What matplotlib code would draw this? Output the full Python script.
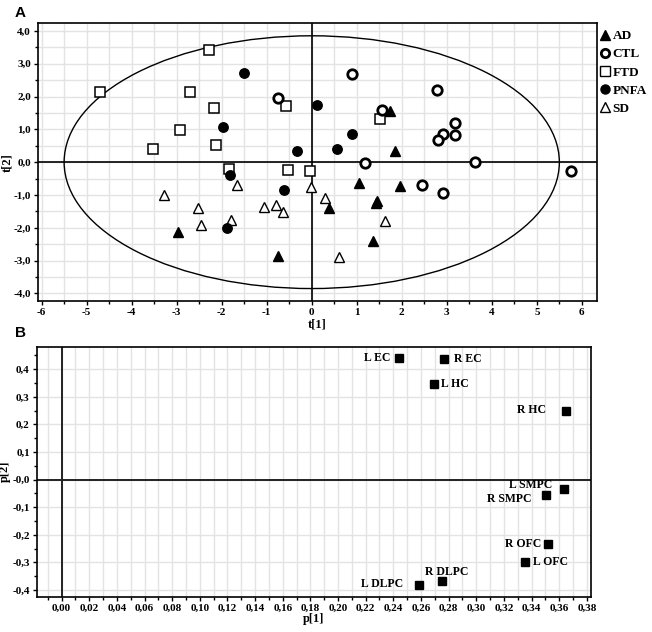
import numpy as np
import matplotlib.pyplot as plt
from matplotlib.patches import Ellipse
from matplotlib.ticker import MultipleLocator, FuncFormatter
from matplotlib.lines import Line2D

plt.rcParams['axes.unicode_minus'] = False
SERIF = 'Liberation Serif'

# ---- panel A: scores t[1] / t[2] ----
ad_x = [-2.96, -0.74, 0.39, 1.73, 1.84, 1.04, 1.96, 1.44, 1.42, 1.36]
ad_y = [-2.13, -2.85, -1.39, 1.57, 0.35, -0.62, -0.72, -1.18, -1.23, -2.39]

ctl_x = [-0.76, 0.90, 2.78, 1.57, 3.19, 2.91, 2.81, 3.19, 1.18, 3.62, 5.76, 2.44, 2.92]
ctl_y = [1.94, 2.69, 2.20, 1.59, 1.19, 0.87, 0.68, 0.83, -0.02, 0.00, -0.26, -0.70, -0.95]

ftd_x = [-2.28, -4.70, -2.70, -2.17, -2.92, -3.53, -2.13, -0.57, -1.83, -0.53, -0.04, 1.52]
ftd_y = [3.43, 2.14, 2.15, 1.66, 0.97, 0.40, 0.51, 1.71, -0.21, -0.25, -0.28, 1.33]

pnfa_x = [-1.50, 0.11, -1.96, -0.33, -1.82, -0.62, -1.89, 0.89, 0.57]
pnfa_y = [2.71, 1.73, 1.07, 0.35, -0.40, -0.86, -2.01, 0.85, 0.41]

sd_x = [-3.29, -2.52, -2.47, -1.67, -1.80, -1.07, -0.79, -0.63, -0.01, 0.30, 1.63, 0.60]
sd_y = [-1.00, -1.40, -1.91, -0.71, -1.76, -1.38, -1.29, -1.53, -0.75, -1.10, -1.78, -2.88]

ellipse_a, ellipse_b = 5.5, 3.85

# ---- panel B: loadings p[1] / p[2] ----
regions = ['L EC', 'R EC', 'L HC', 'R HC', 'L SMPC', 'R SMPC',
           'R OFC', 'L OFC', 'R DLPC', 'L DLPC']
p1 = [0.244, 0.277, 0.2695, 0.365, 0.3633, 0.3503, 0.3518, 0.3351, 0.275, 0.2584]
p2 = [0.441, 0.436, 0.348, 0.248, -0.033, -0.055, -0.233, -0.299, -0.368, -0.383]

# label offsets in pixels and alignment
lab_off = {'L EC': (-8, 0, 'right'), 'R EC': (10, 0, 'left'), 'L HC': (7, 0, 'left'),
           'R HC': (-20, 1, 'right'), 'L SMPC': (-11, 4, 'right'),
           'R SMPC': (-14, -4, 'right'), 'R OFC': (-7, 0, 'right'),
           'L OFC': (8, 0, 'left'), 'R DLPC': (5, 9, 'center'), 'L DLPC': (-16, 1, 'right')}

fig = plt.figure(figsize=(6.52, 6.32), dpi=100)
axA = fig.add_axes([0.0583, 0.5237, 0.8569, 0.4394])
axB = fig.add_axes([0.0563, 0.0559, 0.8501, 0.3956])

gridc = '#e3e3e3'


def style(ax):
    for s in ax.spines.values():
        s.set_linewidth(1.2)
    ax.tick_params(which='both', direction='out', length=3, width=1, pad=2)
    ax.tick_params(which='minor', length=2)
    for lab in ax.get_xticklabels() + ax.get_yticklabels():
        lab.set_fontproperties(SERIF)
        lab.set_fontweight('bold')
        lab.set_fontsize(8)
    ax.set_axisbelow(True)


# panel A
axA.set_xlim(-6.08, 6.33)
axA.set_ylim(-4.23, 4.23)
axA.xaxis.set_major_locator(MultipleLocator(1))
axA.xaxis.set_minor_locator(MultipleLocator(0.5))
axA.yaxis.set_major_locator(MultipleLocator(1))
axA.yaxis.set_minor_locator(MultipleLocator(0.5))
axA.xaxis.set_major_formatter(FuncFormatter(lambda v, p: '%d' % round(v)))
axA.yaxis.set_major_formatter(FuncFormatter(lambda v, p: ('%.1f' % v).replace('-0.0', '0.0').replace('.', ',')))
axA.grid(True, which='both', color=gridc, lw=1)
axA.axhline(0, color='black', lw=1.2, zorder=2)
axA.axvline(0, color='black', lw=1.2, zorder=2)
axA.add_patch(Ellipse((0, 0), 2 * ellipse_a, 2 * ellipse_b, fill=False, color='black', lw=1, zorder=2))

ms = 6.8
axA.plot(ftd_x, ftd_y, 's', ms=ms, mfc='white', mec='black', mew=1.1, ls='none', zorder=3)
axA.plot(sd_x, sd_y, '^', ms=ms, mfc='white', mec='black', mew=1.0, ls='none', zorder=3)
axA.plot(pnfa_x, pnfa_y, 'o', ms=ms, mfc='black', mec='black', ls='none', zorder=3)
axA.plot(ctl_x, ctl_y, 'o', ms=ms, mfc='white', mec='black', mew=2.0, ls='none', zorder=3)
axA.plot(ad_x, ad_y, '^', ms=ms, mfc='black', mec='black', ls='none', zorder=4)
axA.set_xlabel('t[1]', family=SERIF, weight='bold', fontsize=9, labelpad=1)
axA.set_ylabel('t[2]', family=SERIF, weight='bold', fontsize=9, labelpad=0)
style(axA)

handles = [
    Line2D([], [], marker='^', ms=7, mfc='black', mec='black', ls='none'),
    Line2D([], [], marker='o', ms=6, mfc='white', mec='black', mew=2.0, ls='none'),
    Line2D([], [], marker='s', ms=6.5, mfc='white', mec='black', mew=1.0, ls='none'),
    Line2D([], [], marker='o', ms=6.5, mfc='black', mec='black', ls='none'),
    Line2D([], [], marker='^', ms=7, mfc='white', mec='black', mew=1.0, ls='none'),
]
leg = axA.legend(handles, ['AD', 'CTL', 'FTD', 'PNFA', 'SD'], loc='upper left',
                 bbox_to_anchor=(0.993, 1.0), frameon=False, handlelength=0.8,
                 handletextpad=0.2, labelspacing=0.45, borderaxespad=0.1,
                 prop=dict(family=SERIF, weight='bold', size=9.5))

# panel B
axB.set_xlim(-0.018, 0.383)
axB.set_ylim(-0.424, 0.482)
axB.xaxis.set_major_locator(MultipleLocator(0.02))
axB.xaxis.set_minor_locator(MultipleLocator(0.01))
axB.yaxis.set_major_locator(MultipleLocator(0.1))
axB.yaxis.set_minor_locator(MultipleLocator(0.05))
axB.xaxis.set_major_formatter(FuncFormatter(
    lambda v, p: ('%.2f' % v).replace('.', ',') if v > -0.005 else ''))
axB.yaxis.set_major_formatter(FuncFormatter(
    lambda v, p: '-0,0' if abs(v) < 1e-9 else ('%.1f' % v).replace('.', ',')))
axB.grid(True, axis='x', which='both', color=gridc, lw=1)
axB.grid(True, axis='y', which='major', color=gridc, lw=1)
axB.axhline(0, color='#222222', lw=1.4, zorder=2)
axB.axvline(0, color='#222222', lw=1.4, zorder=2)
axB.plot(p1, p2, 's', ms=5.5, mfc='black', mec='black', ls='none', zorder=3)
for name, x, y in zip(regions, p1, p2):
    dx, dy, ha = lab_off[name]
    axB.annotate(name, (x, y), xytext=(dx, dy), textcoords='offset pixels',
                 ha=ha, va='center', family=SERIF, weight='bold', fontsize=8.5)
axB.set_xlabel('p[1]', family=SERIF, weight='bold', fontsize=9, labelpad=0)
axB.set_ylabel('p[2]', family=SERIF, weight='bold', fontsize=9, labelpad=1)
style(axB)

fig.text(0.023, 0.979, 'A', family='Liberation Sans', weight='bold', fontsize=11, va='center')
fig.text(0.023, 0.473, 'B', family='Liberation Sans', weight='bold', fontsize=11, va='center')

fig.savefig('out.png', dpi=100)
